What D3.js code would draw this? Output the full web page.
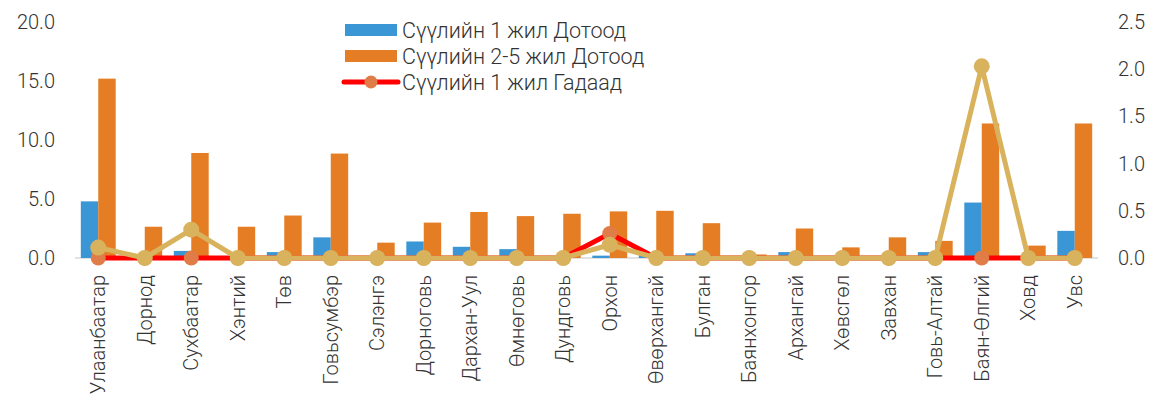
<!DOCTYPE html>
<html>
<head>
<meta charset="utf-8">
<script src="https://cdn.jsdelivr.net/npm/d3@7"></script>
<style>
  body { margin: 0; background: #fff; }
  svg text { font-family: Roboto, "Noto Sans", sans-serif; font-weight: 300; fill: #333; }
</style>
</head>
<body>
<svg id="chart" width="1151" height="398"></svg>
<script>
// Data
const provinces = ["Улаанбаатар", "Дорнод", "Сухбаатар", "Хэнтий", "Төв", "Говьсумбэр", "Сэлэнгэ",
  "Дорноговь", "Дархан-Уул", "Өмнөговь", "Дундговь", "Орхон", "Өвөрхангай", "Булган", "Баянхонгор",
  "Архангай", "Хөвсгөл", "Завхан", "Говь-Алтай", "Баян-Өлгий", "Ховд", "Увс"];
const domestic1 = [4.8, 0, 0.6, 0, 0.5, 1.75, 0.05, 1.4, 0.95, 0.75, 0, 0.2, 0.45, 0.4, 0.05,
  0.5, 0, 0.1, 0.5, 4.7, 0, 2.3];
const domestic25 = [15.2, 2.65, 8.9, 2.65, 3.6, 8.85, 1.3, 3.0, 3.9, 3.55, 3.75, 3.95, 4.0, 2.95, 0.3,
  2.5, 0.9, 1.75, 1.45, 11.4, 1.05, 11.4];
const abroad1 = [0, 0, 0, 0, 0, 0, 0, 0, 0, 0, 0, 0.26, 0, 0, 0, 0, 0, 0, 0, 0, 0, 0];
const abroad25 = [0.11, 0, 0.3, 0, 0, 0, 0, 0, 0, 0, 0, 0.14, 0, 0, 0, 0, 0, 0, 0, 2.03, 0, 0];
const leftTicks = [0, 5, 10, 15, 20];
const rightTicks = [0, 0.5, 1, 1.5, 2, 2.5];
const legendLabels = ["Сүүлийн 1 жил Дотоод", "Сүүлийн 2-5 жил Дотоод", "Сүүлийн 1 жил Гадаад"];

const colors = { blue: "#3b96d5", orange: "#e57d24", red: "#ff0000", redMarker: "#df7c48", gold: "#d9b25d" };

const svg = d3.select("#chart");
const plotLeft = 75, plotRight = 1098, plotTop = 22, plotBottom = 258;

const x = d3.scaleBand().domain(provinces).range([plotLeft, plotRight]).paddingInner(0.25).paddingOuter(0.125);
const xSub = d3.scaleBand().domain(["d1", "d25"]).range([0, x.bandwidth()]);
const yL = d3.scaleLinear().domain([0, 20]).range([plotBottom, plotTop]);
const yR = d3.scaleLinear().domain([0, 2.5]).range([plotBottom, plotTop]);

// baseline
svg.append("line")
  .attr("x1", plotLeft).attr("x2", plotRight)
  .attr("y1", yL(0)).attr("y2", yL(0))
  .attr("stroke", "#d9d9d9").attr("stroke-width", 1.5);

// axes
const axL = svg.append("g").attr("transform", `translate(${plotLeft},0)`)
  .call(d3.axisLeft(yL).tickValues(leftTicks).tickFormat(d3.format(".1f")).tickSize(0).tickPadding(20));
const axR = svg.append("g").attr("transform", `translate(${plotRight},0)`)
  .call(d3.axisRight(yR).tickValues(rightTicks).tickFormat(d3.format(".1f")).tickSize(0).tickPadding(20));
const axB = svg.append("g").attr("transform", `translate(0,${plotBottom})`)
  .call(d3.axisBottom(x).tickSize(0));
[axL, axR, axB].forEach(g => {
  g.select(".domain").remove();
  g.selectAll("text").style("font-size", "20px").attr("fill", "#333");
});
axB.selectAll("text")
  .attr("transform", "rotate(-90)")
  .attr("x", -17).attr("y", 0).attr("dy", "0.35em")
  .style("text-anchor", "end");

// bars
const bars = svg.append("g");
bars.selectAll(".b1").data(provinces).enter().append("rect")
  .attr("x", d => x(d) + xSub("d1"))
  .attr("y", (d, i) => yL(domestic1[i]))
  .attr("width", xSub.bandwidth())
  .attr("height", (d, i) => yL(0) - yL(domestic1[i]))
  .attr("fill", colors.blue);
bars.selectAll(".b2").data(provinces).enter().append("rect")
  .attr("x", d => x(d) + xSub("d25"))
  .attr("y", (d, i) => yL(domestic25[i]))
  .attr("width", xSub.bandwidth())
  .attr("height", (d, i) => yL(0) - yL(domestic25[i]))
  .attr("fill", colors.orange);

const cx = d => x(d) + x.bandwidth() / 2;

// red line (right axis)
const lineR = d3.line().x(d => cx(d[0])).y(d => yR(d[1]));
svg.append("path")
  .datum(provinces.map((p, i) => [p, abroad1[i]]))
  .attr("d", lineR)
  .attr("fill", "none").attr("stroke", colors.red).attr("stroke-width", 5);
svg.append("g").selectAll("circle")
  .data(provinces.map((p, i) => [p, abroad1[i]]))
  .enter().append("circle")
  .attr("cx", d => cx(d[0])).attr("cy", d => yR(d[1])).attr("r", 7.5)
  .attr("fill", colors.redMarker);

// gold line (right axis)
svg.append("path")
  .datum(provinces.map((p, i) => [p, abroad25[i]]))
  .attr("d", lineR)
  .attr("fill", "none").attr("stroke", colors.gold).attr("stroke-width", 5);
svg.append("g").selectAll("circle")
  .data(provinces.map((p, i) => [p, abroad25[i]]))
  .enter().append("circle")
  .attr("cx", d => cx(d[0])).attr("cy", d => yR(d[1])).attr("r", 8)
  .attr("fill", colors.gold);

// legend
const legend = svg.append("g");
const rowY = [30, 56, 82];
legend.append("rect").attr("x", 345).attr("y", rowY[0] - 6).attr("width", 52).attr("height", 12).attr("fill", colors.blue);
legend.append("rect").attr("x", 345).attr("y", rowY[1] - 6).attr("width", 52).attr("height", 12).attr("fill", colors.orange);
legend.append("line").attr("x1", 344).attr("x2", 398).attr("y1", rowY[2]).attr("y2", rowY[2])
  .attr("stroke", colors.red).attr("stroke-width", 5).attr("stroke-linecap", "round");
legend.append("circle").attr("cx", 371).attr("cy", rowY[2]).attr("r", 6.5).attr("fill", colors.redMarker);
legend.selectAll("text").data(legendLabels).enter().append("text")
  .attr("x", 402).attr("y", (d, i) => rowY[i]).attr("dy", "0.35em")
  .style("font-size", "21.5px")
  .text(d => d);
</script>
</body>
</html>
